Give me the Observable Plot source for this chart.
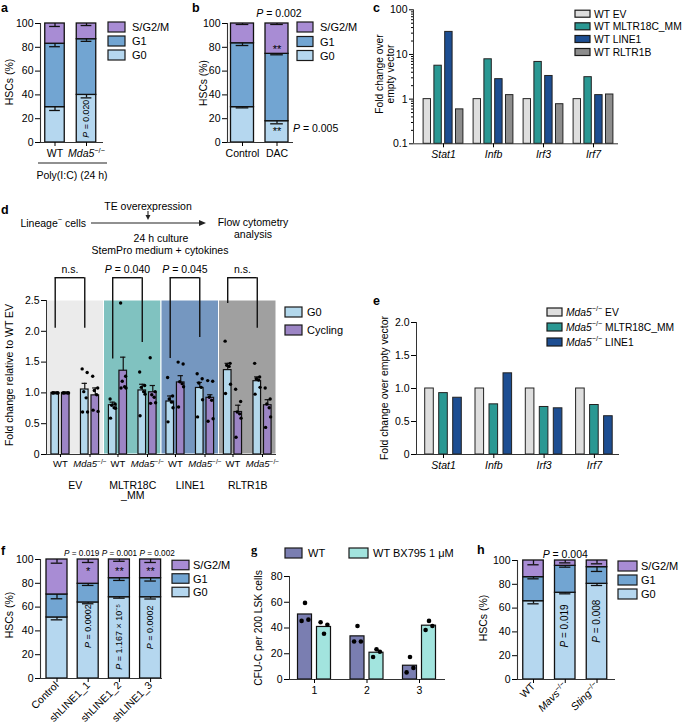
<!DOCTYPE html>
<html><head><meta charset="utf-8">
<script src="https://cdn.jsdelivr.net/npm/d3@7"></script>
<script src="https://cdn.jsdelivr.net/npm/@observablehq/plot@0.6"></script>
<style>
html,body{margin:0;padding:0;background:#fff;}
#page{position:relative;width:685px;height:728px;overflow:hidden;background:#fff;}
#page > svg{position:absolute;left:0;top:0;}
</style></head><body><div id="page"></div>
<script>
// ---------------- DATA ----------------
const phaseNames = ["S/G2/M", "G1", "G0"];

const aLabels = ["WT", "{i|Mda5}{s|−/−}"];
const aG0 = [29.7, 40.0], aG1 = [53.3, 46.8], aS = [17.0, 13.2];
const aG0err = [2.8, 2.5], aG1err = [2.5, 1.8], aSerr = [2.5, 1.7];
const aPinside = [{cat: 1, label: "{i|P} = 0.020", at: 20}];

const bLabels = ["Control", "DAC"];
const bG0 = [29.7, 17.9], bG1 = [53.7, 56.6], bS = [16.6, 25.5];
const bG0err = [0.6, 2.2], bG1err = [1.9, 0.8], bSerr = [0.8, 0.8];
const bStars = [{cat: 1, label: "**", at: 80}, {cat: 1, label: "**", at: 11}];

const cGenes = ["Stat1", "Infb", "Irf3", "Irf7"];
const cSeries = ["WT EV", "WT MLTR18C_MM", "WT LINE1", "WT RLTR1B"];
const cEV = [1, 1, 1, 1];
const cMLTR = [5.6, 7.8, 6.8, 3.1];
const cLINE1 = [32, 2.8, 3.3, 1.23];
const cRLTR = [0.59, 1.23, 0.77, 1.27];
const cTicks = [0.1, 1, 10, 100];

const dGroups = ["EV", "MLTR18C\n_MM", "LINE1", "RLTR1B"];
const dGenotypes = ["WT", "{i|Mda5}{s|−/−}"];
const dG0WT = [1.00, 0.80, 0.86, 1.37], dG0WTsem = [0.01, 0.05, 0.09, 0.11];
const dCycWT = [1.00, 1.36, 1.17, 0.69], dCycWTsem = [0.01, 0.22, 0.11, 0.11];
const dG0KO = [1.055, 1.04, 1.08, 1.19], dG0KOsem = [0.10, 0.10, 0.09, 0.07];
const dCycKO = [0.96, 1.01, 0.92, 0.80], dCycKOsem = [0.12, 0.11, 0.05, 0.09];
const dPtsG0WT = [[1,1,1,1,1,1],[0.90,0.82,0.80,0.76,0.75,0.59],[1.25,0.95,0.90,0.85,0.76,0.53],[1.84,1.48,1.45,1.43,1.14,0.99]];
const dPtsCycWT = [[1,1,1,1,1,1],[2.46,1.27,1.19,1.10,1.08,1.08],[1.50,1.47,1.18,1.15,1.10,0.77],[1.06,0.86,0.69,0.66,0.59,0.28]];
const dPtsG0KO = [[1.39,1.33,1.02,0.92,0.69,0.69],[1.34,1.12,1.09,1.02,0.98,0.63],[1.31,1.23,1.16,1.09,0.89,0.61],[1.48,1.26,1.23,1.21,1.09,0.98]];
const dPtsCycKO = [[1.27,1.08,1.04,0.97,0.70,0.72],[1.57,1.02,0.97,0.93,0.84,0.83],[1.20,1.19,0.93,0.88,0.58,0.54],[1.08,0.90,0.82,0.76,0.61,0.44]];
const dSig = ["n.s.", "{i|P} = 0.040", "{i|P} = 0.045", "n.s."];
const dLegWT = [2.05, 1.55, 1.56, 2.45];
const dLegKO = [2.05, 1.82, 1.90, 2.05];
const dBracketTop = 2.87, dSigAt = 3.0;
const dTicks = [0, 0.5, 1, 1.5, 2, 2.5];

const eGenes = ["Stat1", "Infb", "Irf3", "Irf7"];
const eSeries = ["{i|Mda5}{s|−/−} EV", "{i|Mda5}{s|−/−} MLTR18C_MM", "{i|Mda5}{s|−/−} LINE1"];
const eEV = [1, 1, 1, 1];
const eMLTR = [0.93, 0.76, 0.72, 0.75];
const eLINE1 = [0.86, 1.23, 0.70, 0.58];
const eTicks = [0, 0.5, 1, 1.5, 2];

const fLabels = ["Control", "shLINE1_1", "shLINE1_2", "shLINE1_3"];
const fG0 = [51.3, 63.9, 68.3, 68.3], fG1 = [19.3, 15.7, 16.0, 16.0], fS = [29.4, 20.4, 15.7, 15.7];
const fG0err = [2.0, 1.1, 0.8, 1.5], fG1err = [3.6, 1.4, 1.9, 2.4], fSerr = [3.1, 2.5, 1.5, 2.5];
const fPtop = [{cat: 1, label: "{i|P} = 0.019"}, {cat: 2, label: "{i|P} = 0.001"}, {cat: 3, label: "{i|P} = 0.002"}];
const fStars = [{cat: 1, label: "*"}, {cat: 2, label: "**"}, {cat: 3, label: "**"}];
const fPinside = [{cat: 1, label: "{i|P} = 0.0002", at: 44}, {cat: 2, label: "{i|P} = 1.167 × 10⁻⁵", at: 35}, {cat: 3, label: "{i|P} = 0.0002", at: 43}];

const gDays = ["1", "2", "3"];
const gSeries = ["WT", "WT BX795 1 μM"];
const gWT = [50.5, 33.5, 10.7], gBX = [40.8, 20.8, 41.8];
const gWTpts = [[45.5, 59.5, 46.5], [29.5, 41.5, 29.5], [5.5, 17.5, 9.0]];
const gBXpts = [[44.5, 35.5, 42.5], [17.5, 23.5, 21.5], [38.5, 45.5, 41.5]];

const hLabels = ["WT", "{i|Mavs}{s|−/−}", "{i|Sting}{s|−/−}"];
const hG0 = [65.8, 72.9, 80.4], hG1 = [20.2, 22.6, 14.0], hS = [14.0, 4.5, 5.6];
const hG0err = [2.2, 0.9, 1.4], hG1err = [1.4, 1.1, 3.6], hSerr = [3.6, 2.0, 2.8];
const hPtop = [{cat: 1, label: "{i|P} = 0.004"}];
const hPinside = [{cat: 1, label: "{i|P} = 0.019", at: 45}, {cat: 2, label: "{i|P} = 0.008", at: 49}];

// ---------------- STYLE ----------------
const W = 685, H = 728;
const FONT = "'Liberation Sans', Arial, Helvetica, sans-serif";
const AX = "#333";
const INK = "#111";
const phaseCol = {G0: "#b5d7ef", G1: "#72a5d2", S: "#a88cd4"};
const cCol = ["#dedede", "#2a9893", "#1d4e92", "#8d8d8d"];
const dCol = {G0: "#b3d8ec", Cyc: "#9c85c5"};
const dBg = ["#ebebeb", "#80c2c0", "#7597c0", "#a0a0a0"];
const gCol = ["#7a7eb1", "#a2e4de"];
const STYLE = {fontFamily: FONT, fontSize: "10.5px", background: "transparent", overflow: "visible", color: "#000"};
const NS = "http://www.w3.org/2000/svg";
const page = document.getElementById("page");

function richify(el, s) {
  const parts = [];
  const re = /\{([is])\|([^}]*)\}/g;
  let last = 0, m;
  while ((m = re.exec(s))) {
    if (m.index > last) parts.push(["n", s.slice(last, m.index)]);
    parts.push([m[1], m[2]]);
    last = re.lastIndex;
  }
  if (last < s.length) parts.push(["n", s.slice(last)]);
  el.textContent = "";
  let shifted = false;
  for (const [k, t] of parts) {
    const ts = document.createElementNS(NS, "tspan");
    if (k === "s") {
      ts.style.fontSize = "70%";
      if (!shifted) { ts.setAttribute("dy", "-0.5em"); shifted = true; }
    } else {
      if (k === "i") ts.setAttribute("font-style", "italic");
      if (shifted) { ts.setAttribute("dy", "0.35em"); shifted = false; }
    }
    ts.textContent = t;
    el.appendChild(ts);
  }
}
function richAll(svg) {
  svg.querySelectorAll("text, tspan").forEach(el => {
    if (el.children.length === 0 && el.textContent.includes("{")) richify(el, el.textContent);
  });
}
function addPlot(p) { richAll(p); page.appendChild(p); }
function frameOpts(x0, x1, yTop, yBot) {
  return {width: W, height: H, marginLeft: x0, marginRight: W - x1, marginTop: yTop, marginBottom: H - yBot, style: STYLE, color: {type: "identity"}};
}

// ---------------- STACKED PANELS ----------------
function stackedPlot(o) {
  const n = o.labels.length, idx = d3.range(n);
  const rows = [], errs = [];
  idx.forEach(i => {
    let c = 0;
    [["G0", o.G0, o.eG0], ["G1", o.G1, o.eG1], ["S", o.S, o.eS]].forEach(([p, v, e]) => {
      rows.push({i, p, y1: c, y2: c + v[i]});
      c += v[i];
      errs.push({i, top: c, low: c - e[i]});
    });
  });
  const xd = [(o.x0 - o.c0) / o.step, (o.x1 - o.c0) / o.step];
  const hw = o.bw / 2 / o.step;
  return Plot.plot({
    ...frameOpts(o.x0, o.x1, o.yTop, o.yBot),
    x: {domain: xd, axis: null, label: null},
    y: {domain: [0, 100], axis: null, label: null},
    marks: [
      Plot.rect(rows, {x1: d => d.i - hw, x2: d => d.i + hw, y1: "y1", y2: "y2", fill: d => phaseCol[d.p], stroke: INK, strokeWidth: 1.3}),
      Plot.ruleX(errs, {x: "i", y1: "top", y2: "low", stroke: INK, strokeWidth: 1.3}),
      Plot.ruleY(errs, {y: "low", x1: d => d.i - hw * 0.55, x2: d => d.i + hw * 0.55, stroke: INK, strokeWidth: 1.3}),
      Plot.ruleX([xd[0]], {stroke: AX, strokeWidth: 1.1}),
      Plot.ruleY([0], {stroke: AX, strokeWidth: 1.1}),
      Plot.axisY({ticks: d3.range(0, 101, 20), tickSize: 5, tickPadding: 2, fontSize: 10.5, label: null}),
      Plot.axisX({ticks: idx, tickFormat: i => o.labels[i], tickSize: 4, tickPadding: o.rot ? 1 : 3, tickRotate: o.rot || 0, fontSize: 10.5, label: null}),
      ...(o.extra ? o.extra(o.step) : [])
    ]
  });
}

// a
addPlot(stackedPlot({labels: aLabels, G0: aG0, G1: aG1, S: aS, eG0: aG0err, eG1: aG1err, eS: aSerr,
  x0: 40, x1: 103, c0: 54.5, step: 31.5, bw: 19.5, yTop: 23, yBot: 142,
  extra: () => [Plot.text(aPinside, {x: "cat", y: "at", text: "label", rotate: -90, fontSize: 8.8})]}));
// b
addPlot(stackedPlot({labels: bLabels, G0: bG0, G1: bG1, S: bS, eG0: bG0err, eG1: bG1err, eS: bSerr,
  x0: 227, x1: 293, c0: 242, step: 34.5, bw: 23, yTop: 23, yBot: 142,
  extra: () => [Plot.text(bStars, {x: "cat", y: "at", text: "label", fontSize: 11, dy: 2})]}));
// f
const fTopShift = [-6.5, 0, 6.5];
addPlot(stackedPlot({labels: fLabels, G0: fG0, G1: fG1, S: fS, eG0: fG0err, eG1: fG1err, eS: fSerr,
  x0: 40, x1: 162, c0: 56.5, step: 31.2, bw: 21, yTop: 559, yBot: 678, rot: -45,
  extra: step => [
    Plot.text(fPtop, {x: (d, k) => d.cat + fTopShift[k] / step, text: "label", frameAnchor: "top", dy: -9, fontSize: 8.2}),
    Plot.text(fStars, {x: "cat", y: 92, text: "label", fontSize: 11, dy: 2}),
    Plot.text(fPinside, {x: "cat", y: "at", text: "label", rotate: -90, fontSize: 9})
  ]}));
// h
addPlot(stackedPlot({labels: hLabels, G0: hG0, G1: hG1, S: hS, eG0: hG0err, eG1: hG1err, eS: hSerr,
  x0: 517, x1: 615, c0: 533, step: 31.75, bw: 20.5, yTop: 560, yBot: 679, rot: -45,
  extra: () => [
    Plot.text(hPtop, {x: "cat", text: "label", frameAnchor: "top", dy: -10, fontSize: 10.5}),
    Plot.text(hPinside, {x: "cat", y: "at", text: "label", rotate: -90, fontSize: 10})
  ]}));

// ---------------- PANEL c ----------------
{
  const x0 = 413, x1 = 618, c0 = 443, step = 50;
  const xd = [(x0 - c0) / step, (x1 - c0) / step];
  const off = 10.8 / step, hw = 3.7 / step;
  const rows = [];
  [cEV, cMLTR, cLINE1, cRLTR].forEach((arr, j) => arr.forEach((v, i) => rows.push({i, j, v})));
  const minor = [];
  [0.1, 1, 10].forEach(b => d3.range(2, 10).forEach(k => minor.push(b * k)));
  addPlot(Plot.plot({
    ...frameOpts(x0, x1, 9.3, 143.3),
    x: {domain: xd, axis: null, label: null},
    y: {type: "log", domain: [0.1, 100], axis: null, label: null},
    marks: [
      Plot.rect(rows, {x1: d => d.i + (d.j - 1.5) * off - hw, x2: d => d.i + (d.j - 1.5) * off + hw, y1: 0.1, y2: "v", fill: d => cCol[d.j], stroke: "#222", strokeWidth: 1}),
      Plot.ruleX([xd[0]], {stroke: AX}),
      Plot.ruleY([0.1], {stroke: AX}),
      Plot.axisY({ticks: cTicks, tickFormat: d => String(d), tickSize: 4, tickPadding: 2, fontSize: 10.5, label: null}),
      Plot.axisY({ticks: minor, tickFormat: () => "", tickSize: 2, label: null}),
      Plot.axisX({ticks: d3.range(4), tickFormat: i => "{i|" + cGenes[i] + "}", tickSize: 4, tickPadding: 3, fontSize: 10.5, label: null})
    ]
  }));
}

// ---------------- PANEL d ----------------
{
  const x0 = 46, x1 = 276, step = (x1 - x0) / 4;
  const po = 0.257, bo = 0.0915, hw = 3.8 / step;
  const jit = [-2.6, 2.4, -1, 1.4, 2.8, -2.2];
  const specs = [
    {m: dG0WT, e: dG0WTsem, pts: dPtsG0WT, off: -po - bo, s: "G0"},
    {m: dCycWT, e: dCycWTsem, pts: dPtsCycWT, off: -po + bo, s: "Cyc"},
    {m: dG0KO, e: dG0KOsem, pts: dPtsG0KO, off: po - bo, s: "G0"},
    {m: dCycKO, e: dCycKOsem, pts: dPtsCycKO, off: po + bo, s: "Cyc"}
  ];
  const bars = [], dots = [];
  specs.forEach(sp => sp.m.forEach((v, g) => {
    bars.push({x: g + sp.off, v, top: v + sp.e[g], s: sp.s});
    sp.pts[g].forEach((p, j) => dots.push({x: g + sp.off + jit[j] / step, v: p}));
  }));
  const legs = [];
  dGroups.forEach((_, g) => {
    legs.push({x: g - po - bo, y1: dLegWT[g]});
    legs.push({x: g + po - bo, y1: dLegKO[g]});
  });
  const brk = dGroups.map((_, g) => ({x1: g - po - bo, x2: g + po - bo, label: dSig[g], xc: g - bo}));
  const genoTicks = [];
  dGroups.forEach((_, g) => { genoTicks.push(g - po); genoTicks.push(g + po); });
  addPlot(Plot.plot({
    ...frameOpts(x0, x1, 300, 454),
    x: {domain: [-0.5, 3.5], axis: null, label: null},
    y: {domain: [0, 2.5], axis: null, label: null},
    marks: [
      Plot.rect(dGroups, {x1: (d, g) => g - 0.5, x2: (d, g) => g + 0.5, y1: 0, y2: 2.5, fill: (d, g) => dBg[g], stroke: "white", strokeWidth: 1}),
      Plot.rect(bars, {x1: d => d.x - hw, x2: d => d.x + hw, y1: 0, y2: "v", fill: d => dCol[d.s], stroke: INK, strokeWidth: 1.2}),
      Plot.ruleX(bars, {x: "x", y1: "v", y2: "top", stroke: INK, strokeWidth: 1.2}),
      Plot.ruleY(bars, {y: "top", x1: d => d.x - hw * 0.7, x2: d => d.x + hw * 0.7, stroke: INK, strokeWidth: 1.2}),
      Plot.dot(dots, {x: "x", y: "v", r: 1.7, fill: "#000", stroke: "none"}),
      Plot.ruleX(legs, {x: "x", y1: "y1", y2: dBracketTop, stroke: INK, strokeWidth: 1.4}),
      Plot.ruleY(brk, {x1: "x1", x2: "x2", y: dBracketTop, stroke: INK, strokeWidth: 1.4}),
      Plot.text(brk, {x: "xc", y: dSigAt, text: "label", fontSize: 10.5}),
      Plot.ruleX([-0.5], {y1: 0, y2: 2.5, stroke: AX}),
      Plot.ruleY([0], {stroke: AX}),
      Plot.axisY({ticks: dTicks, tickFormat: d => d === 0 ? "0" : d.toFixed(1), tickSize: 5, tickPadding: 2, fontSize: 10.5, label: null}),
      Plot.axisX({ticks: genoTicks, tickFormat: v => v < Math.round(v) ? dGenotypes[0] : dGenotypes[1], tickSize: 3, tickPadding: 3, fontSize: 9.5, label: null}),
      Plot.axisX({ticks: d3.range(4), tickFormat: g => dGroups[g], tickSize: 0, tickPadding: 27, fontSize: 10.5, label: null})
    ]
  }));
}

// ---------------- PANEL e ----------------
{
  const x0 = 416, x1 = 619, c0 = 443, step = 50.3;
  const xd = [(x0 - c0) / step, (x1 - c0) / step];
  const off = 14 / step, hw = 4.3 / step;
  const rows = [];
  [eEV, eMLTR, eLINE1].forEach((arr, j) => arr.forEach((v, i) => rows.push({i, j, v})));
  addPlot(Plot.plot({
    ...frameOpts(x0, x1, 322, 454),
    x: {domain: xd, axis: null, label: null},
    y: {domain: [0, 2], axis: null, label: null},
    marks: [
      Plot.rect(rows, {x1: d => d.i + (d.j - 1) * off - hw, x2: d => d.i + (d.j - 1) * off + hw, y1: 0, y2: "v", fill: d => cCol[d.j], stroke: "#222", strokeWidth: 1}),
      Plot.ruleX([xd[0]], {stroke: AX}),
      Plot.ruleY([0], {stroke: AX}),
      Plot.axisY({ticks: eTicks, tickFormat: d => d === 0 ? "0" : d.toFixed(1), tickSize: 5, tickPadding: 2, fontSize: 10.5, label: null}),
      Plot.axisX({ticks: d3.range(4), tickFormat: i => "{i|" + eGenes[i] + "}", tickSize: 4, tickPadding: 3, fontSize: 10.5, label: null})
    ]
  }));
}

// ---------------- PANEL g ----------------
{
  const x0 = 289, x1 = 445, c0 = 314, step = 52.5;
  const xd = [(x0 - c0) / step, (x1 - c0) / step];
  const off = 9.5 / step, hw = 7 / step;
  const bars = [], dots = [];
  [[gWT, gWTpts, -1], [gBX, gBXpts, 1]].forEach(([m, pts, sgn], j) => m.forEach((v, i) => {
    bars.push({x: i + sgn * off, v, j});
    pts[i].forEach((p, k) => dots.push({x: i + sgn * off + (k - 1) * 3.4 / step, v: p}));
  }));
  addPlot(Plot.plot({
    ...frameOpts(x0, x1, 576, 679),
    x: {domain: xd, axis: null, label: null},
    y: {domain: [0, 80], axis: null, label: null},
    marks: [
      Plot.rect(bars, {x1: d => d.x - hw, x2: d => d.x + hw, y1: 0, y2: "v", fill: d => gCol[d.j], stroke: INK, strokeWidth: 1.2}),
      Plot.dot(dots, {x: "x", y: "v", r: 2.3, fill: "#000", stroke: "none"}),
      Plot.ruleX([xd[0]], {stroke: AX}),
      Plot.ruleY([0], {stroke: AX}),
      Plot.axisY({ticks: [0, 20, 40, 60, 80], tickSize: 5, tickPadding: 2, fontSize: 10.5, label: null}),
      Plot.axisX({ticks: d3.range(3), tickFormat: i => gDays[i], tickSize: 4, tickPadding: 3, fontSize: 10.5, label: null})
    ]
  }));
}

// ---------------- OVERLAY: letters, labels, legends, schematic ----------------
const ov = document.createElementNS(NS, "svg");
ov.setAttribute("width", W); ov.setAttribute("height", H);
ov.style.fontFamily = FONT;
page.appendChild(ov);
function T(x, y, s, o = {}) {
  const t = document.createElementNS(NS, "text");
  t.setAttribute("x", x); t.setAttribute("y", y);
  t.setAttribute("font-size", o.size || 10.5);
  t.setAttribute("text-anchor", o.anchor || "start");
  t.setAttribute("dominant-baseline", o.base || "central");
  t.setAttribute("fill", "#000");
  if (o.weight) t.setAttribute("font-weight", o.weight);
  if (o.family) t.setAttribute("font-family", o.family);
  if (o.rotate) t.setAttribute("transform", `rotate(${o.rotate},${x},${y})`);
  richify(t, s);
  ov.appendChild(t);
}
function R(x, y, w, h, fill) {
  const r = document.createElementNS(NS, "rect");
  r.setAttribute("x", x); r.setAttribute("y", y); r.setAttribute("width", w); r.setAttribute("height", h);
  r.setAttribute("fill", fill); r.setAttribute("stroke", "#1a1a1a"); r.setAttribute("stroke-width", 1.2);
  ov.appendChild(r);
}
function L(x1, y1, x2, y2, w = 1) {
  const l = document.createElementNS(NS, "line");
  l.setAttribute("x1", x1); l.setAttribute("y1", y1); l.setAttribute("x2", x2); l.setAttribute("y2", y2);
  l.setAttribute("stroke", "#222"); l.setAttribute("stroke-width", w);
  ov.appendChild(l);
}
function P(points) {
  const p = document.createElementNS(NS, "polygon");
  p.setAttribute("points", points); p.setAttribute("fill", "#222");
  ov.appendChild(p);
}
function legend(items, x, ys, sw, sh, tx, size) {
  items.forEach((it, k) => { R(x, ys[k] - sh / 2, sw, sh, it[0]); T(tx, ys[k], it[1], {size}); });
}

// panel letters
const B = {size: 12.5, weight: "bold", base: "alphabetic"};
T(1, 12, "a", B); T(192, 12, "b", B); T(373, 12, "c", B);
T(1, 214, "d", B); T(373, 305, "e", B); T(1, 555, "f", B);
T(251, 554, "g", {...B, family: "'Liberation Serif', 'Times New Roman', serif"}); T(477, 554, "h", B);

// axis titles
T(9, 82, "HSCs (%)", {anchor: "middle", rotate: -90, size: 10.5});
T(203, 83, "HSCs (%)", {anchor: "middle", rotate: -90, size: 10.3});
T(379, 74, "Fold change over", {anchor: "middle", rotate: -90, size: 10.3});
T(390, 74, "empty vector", {anchor: "middle", rotate: -90, size: 10.3});
T(9, 375, "Fold change relative to WT EV", {anchor: "middle", rotate: -90, size: 10.5});
T(384, 388, "Fold change over empty vector", {anchor: "middle", rotate: -90, size: 10.5});
T(9, 615, "HSCs (%)", {anchor: "middle", rotate: -90, size: 10.5});
T(258, 628, "CFU-C per 200 LSK cells", {anchor: "middle", rotate: -90, size: 10.3});
T(483, 618, "HSCs (%)", {anchor: "middle", rotate: -90, size: 10.5});

// panel a footnote
L(38, 163, 107, 163, 1.2);
T(72, 175, "Poly(I:C) (24 h)", {anchor: "middle", size: 10.5});
// panel b P values
T(279, 13, "{i|P} = 0.002", {anchor: "middle", size: 10.5});
T(293, 128, "{i|P} = 0.005", {size: 10.5});

// legends
const stackLeg = [[phaseCol.S, phaseNames[0]], [phaseCol.G1, phaseNames[1]], [phaseCol.G0, phaseNames[2]]];
legend(stackLeg, 108, [27, 41, 55], 17, 10, 132, 11);
legend(stackLeg, 297, [27, 41.5, 55.5], 16, 10, 320, 11);
legend(cSeries.map((s, j) => [cCol[j], s]), 575, [13.7, 26.3, 39, 52], 15, 7, 594, 10.3);
legend([[dCol.G0, "G0"], [dCol.Cyc, "Cycling"]], 285, [312, 330], 17, 10, 307, 11);
legend(eSeries.map((s, j) => [cCol[j], s]), 547, [312, 327, 342], 15, 8, 566, 10.3);
legend(stackLeg, 172, [565, 578.5, 592], 17, 9.5, 193, 11);
legend(stackLeg, 618, [566, 580, 594], 19, 10, 641, 11);
R(285, 548, 17, 10, gCol[0]); T(308, 553, gSeries[0], {size: 11});
R(349, 548, 19, 10, gCol[1]); T(373, 553, gSeries[1], {size: 11});

// schematic (panel d)
T(86, 223, "Lineage{s|−} cells", {anchor: "end", size: 10.5});
L(91, 223, 200, 223, 1.1);
P("206,223 199,220 199,226");
T(148, 206, "TE overexpression", {anchor: "middle", size: 10.5});
L(148, 211, 148, 216, 1.1);
P("148,220 145.5,215 150.5,215");
T(161, 238, "24 h culture", {anchor: "middle", size: 10.5});
T(160, 250, "StemPro medium + cytokines", {anchor: "middle", size: 10.5});
T(253, 222, "Flow cytometry", {anchor: "middle", size: 10.5});
T(253, 234, "analysis", {anchor: "middle", size: 10.5});
</script></body></html>
